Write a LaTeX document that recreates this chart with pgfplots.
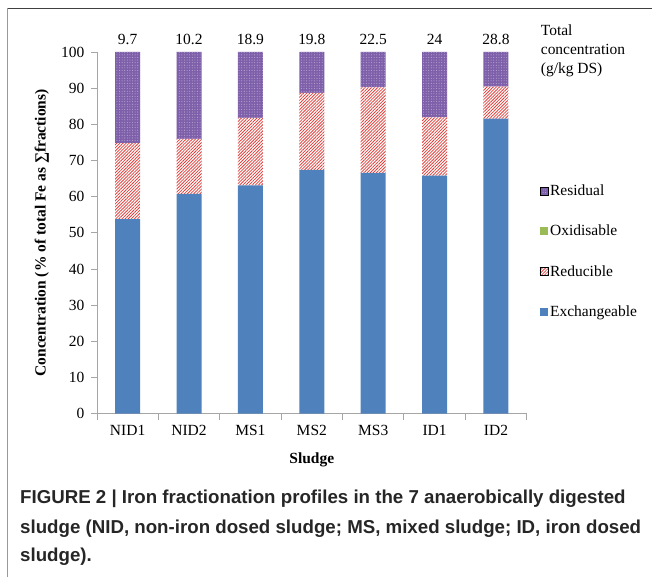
\documentclass[border=0pt]{standalone}
\usepackage{pgfplots}
\pgfplotsset{compat=1.18}
\usetikzlibrary{patterns,patterns.meta}
\usepackage{fontspec}
\setmainfont{Liberation Serif}
\newfontfamily\capfont{Liberation Sans}
\newfontfamily\serfont{Liberation Serif}
\definecolor{exch}{HTML}{4F81BD}
\definecolor{oxid}{HTML}{9BBB59}
\definecolor{redu}{HTML}{E0403C}
\definecolor{resi}{HTML}{7E5FAA}
\definecolor{resd}{HTML}{B8A6D2}
\definecolor{axg}{HTML}{A6A6A6}
\newcommand{\chartfont}{\serfont\fontsize{15.5bp}{18bp}\selectfont}
\begin{document}
\begin{tikzpicture}
\path (0,0) rectangle (652bp,577bp);
\draw[black!75, line width=0.8bp] (8bp,569bp) -- (652bp,569bp);
\draw[black!40, line width=1bp] (8bp,569bp) -- (8bp,0);
\begin{axis}[
 at={(97bp,163bp)}, anchor=south west,
 scale only axis, width=430bp, height=362bp,
 ybar stacked, bar width=25bp,
 xmin=-0.5, xmax=6.5, ymin=0, ymax=100,
 xtick={0,...,6}, xticklabels={NID1,NID2,MS1,MS2,MS3,ID1,ID2},
 minor xtick={-0.5,0.5,...,6.5},
 ytick={0,10,...,100},
 axis lines*=left, axis line style={axg, line width=0.8bp, -},
 tick style={axg, line width=0.8bp},
 every major x tick/.append style={draw=none},
 tick align=outside,
 major tick length=6bp, minor tick length=6bp,
 tick label style={font=\chartfont},
 /pgf/number format/assume math mode=true,
 xticklabel style={yshift=-2bp},
 yticklabel style={xshift=-3bp},
 xlabel={\textbf{Sludge}},
 ylabel={\textbf{Concentration (\% of total Fe as ∑fractions)}},
 every axis x label/.style={at={(axis description cs:0.5,-0.127)}, anchor=center, font=\chartfont},
 every axis y label/.style={at={(axis description cs:-0.128,0.5)}, rotate=90, anchor=center, font=\chartfont},
 clip=false,
 legend cell align=left,
 legend style={draw=none, fill=none, font=\chartfont, at={(1.023,0.449)}, anchor=west, row sep=24bp},
 legend image code/.code={\path[#1, draw=none] (0bp,-4bp) rectangle (8bp,4bp);},
]
\addplot[fill=exch, draw=none, forget plot] coordinates {(0,53.8) (1,60.8) (2,63.1) (3,67.4) (4,66.6) (5,65.8) (6,81.6)};
\addplot[fill=oxid, draw=none, forget plot] coordinates {(0,0) (1,0) (2,0) (3,0) (4,0) (5,0) (6,0)};
\addplot[fill=white, draw=none, forget plot, postaction={pattern={Lines[angle=45,distance=2.2bp,line width=0.8bp]}, pattern color=redu}] coordinates {(0,21.0) (1,15.2) (2,18.7) (3,21.3) (4,23.6) (5,16.1) (6,8.8)};
\addplot[fill=resi, draw=none, forget plot, postaction={pattern={Dots[distance=2.6bp,radius=0.55bp]}, pattern color=resd}] coordinates {(0,25.2) (1,24.0) (2,18.2) (3,11.3) (4,9.8) (5,18.1) (6,9.6)};
\addlegendimage{fill=resi, postaction={pattern={Dots[distance=2.6bp,radius=0.55bp]}, pattern color=resd}}
\addlegendentry{Residual}
\addlegendimage{fill=oxid}
\addlegendentry{Oxidisable}
\addlegendimage{fill=white, postaction={pattern={Lines[angle=45,distance=2.2bp,line width=0.8bp]}, pattern color=redu}}
\addlegendentry{Reducible}
\addlegendimage{fill=exch}
\addlegendentry{Exchangeable}
\node[anchor=base, font=\chartfont, yshift=7bp] at (axis cs:0,100) {9.7};
\node[anchor=base, font=\chartfont, yshift=7bp] at (axis cs:1,100) {10.2};
\node[anchor=base, font=\chartfont, yshift=7bp] at (axis cs:2,100) {18.9};
\node[anchor=base, font=\chartfont, yshift=7bp] at (axis cs:3,100) {19.8};
\node[anchor=base, font=\chartfont, yshift=7bp] at (axis cs:4,100) {22.5};
\node[anchor=base, font=\chartfont, yshift=7bp] at (axis cs:5,100) {24};
\node[anchor=base, font=\chartfont, yshift=7bp] at (axis cs:6,100) {28.8};
\end{axis}
\node[anchor=base west, font=\chartfont, inner sep=0pt] at (541bp,541bp) {Total};
\node[anchor=base west, font=\chartfont, inner sep=0pt] at (541bp,522bp) {concentration};
\node[anchor=base west, font=\chartfont, inner sep=0pt] at (541bp,503bp) {(g/kg DS)};
\begin{scope}[every node/.style={anchor=base west, inner sep=0pt, text=black!85, font=\capfont\bfseries\fontsize{18.7bp}{22bp}\selectfont}]
\node at (20bp,73.5bp) {FIGURE 2 | Iron fractionation profiles in the 7 anaerobically digested};
\node at (20bp,43.5bp) {sludge (NID, non-iron dosed sludge; MS, mixed sludge; ID, iron dosed};
\node at (20bp,15bp) {sludge).};
\end{scope}
\end{tikzpicture}
\end{document}
